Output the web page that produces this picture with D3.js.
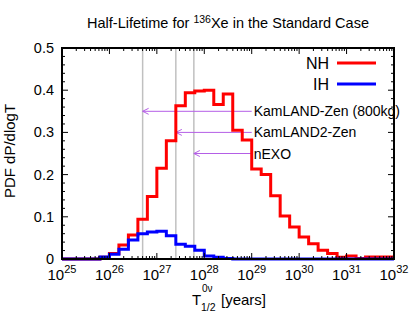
<!DOCTYPE html>
<html>
<head>
  <style>
    body { margin: 0; background: #fff; }
    text { font-family: "Liberation Sans", Arial, sans-serif; fill: #000; }
  </style>
</head>
<body>
  <svg id="chart"></svg>

  <script src="https://d3js.org/d3.v7.min.js"></script>
  <script>
    // histogram bin edges, as log10(T / years)
    var binEdges = [25.0, 25.2, 25.4, 25.6, 25.8, 26.0, 26.2, 26.4, 26.6, 26.8,
                    27.0, 27.2, 27.4, 27.6, 27.8, 28.0, 28.2, 28.4, 28.6, 28.8,
                    29.0, 29.2, 29.4, 29.6, 29.8, 30.0, 30.2, 30.4, 30.6, 30.8,
                    31.0, 31.2, 31.4, 31.6, 31.8, 32.0];
    // PDF per bin
    var nhValues = [0, 0, 0, 0, 0.004, 0.013, 0.033, 0.057, 0.094, 0.148,
                    0.215, 0.280, 0.363, 0.394, 0.398, 0.400, 0.366, 0.391, 0.305, 0.282,
                    0.213, 0.200, 0.150, 0.102, 0.076, 0.052, 0.036, 0.021, 0.013, 0.004,
                    0.007, 0.001, 0.005, 0.005, 0.005];
    var ihValues = [0, 0, 0, 0, 0.005, 0.011, 0.023, 0.045, 0.060, 0.064,
                    0.066, 0.055, 0.035, 0.030, 0.021, 0.007, 0.004, 0.001, 0, 0,
                    0, 0, 0, 0, 0, 0, 0, 0, 0, 0,
                    0, 0, 0, 0, 0];
    // experiment sensitivities
    var expNames = ["KamLAND-Zen (800kg)", "KamLAND2-Zen", "nEXO"];
    var expLimits = [26.7, 27.4, 27.78];
    var expArrowY = [0.35, 0.30, 0.25];
    var labelAt = 29;

    var xTickExp = [25, 26, 27, 28, 29, 30, 31, 32];
    var yTicks = [0, 0.1, 0.2, 0.3, 0.4, 0.5];

    var width = 420, height = 327;
    var pLeft = 62, pRight = 394, pTop = 48, pBottom = 259;

    var svg = d3.select("#chart").attr("width", width).attr("height", height);

    var x = d3.scaleLog().domain([1e25, 1e32]).range([pLeft, pRight]);
    var y = d3.scaleLinear().domain([0, 0.5]).range([pBottom, pTop]);

    // vertical gray sensitivity lines
    svg.selectAll(".vline").data(expLimits).enter().append("line")
      .attr("x1", function(d) { return x(Math.pow(10, d)); })
      .attr("x2", function(d) { return x(Math.pow(10, d)); })
      .attr("y1", pTop).attr("y2", pBottom)
      .attr("stroke", "#c0c0c0").attr("stroke-width", 1.5);

    // arrows
    var purple = "#b45ee6";
    expLimits.forEach(function(d, i) {
      var x0 = x(Math.pow(10, labelAt)), x1 = x(Math.pow(10, d)), yy = y(expArrowY[i]);
      svg.append("line").attr("x1", x0).attr("x2", x1).attr("y1", yy).attr("y2", yy)
        .attr("stroke", purple).attr("stroke-width", 1);
      svg.append("path")
        .attr("d", "M" + (x1 + 6) + "," + (yy - 3) + "L" + x1 + "," + yy + "L" + (x1 + 6) + "," + (yy + 3))
        .attr("fill", "none").attr("stroke", purple).attr("stroke-width", 1);
      svg.append("text").attr("x", x0 + 2).attr("y", yy + 5)
        .style("font-size", "14px").text(expNames[i]);
    });

    // step histograms
    function stepPoints(vals) {
      var pts = vals.map(function(v, i) { return [binEdges[i], v]; });
      pts.push([binEdges[binEdges.length - 1], vals[vals.length - 1]]);
      return pts;
    }
    var line = d3.line()
      .x(function(d) { return x(Math.pow(10, d[0])); })
      .y(function(d) { return y(d[1]); })
      .curve(d3.curveStepAfter);

    svg.append("path").datum(stepPoints(nhValues)).attr("d", line)
      .attr("fill", "none").attr("stroke", "#ff0000").attr("stroke-width", 3);
    svg.append("path").datum(stepPoints(ihValues)).attr("d", line)
      .attr("fill", "none").attr("stroke", "#0000ff").attr("stroke-width", 3);

    // frame
    svg.append("rect").attr("x", pLeft).attr("y", pTop)
      .attr("width", pRight - pLeft).attr("height", pBottom - pTop)
      .attr("fill", "none").attr("stroke", "#000").attr("stroke-width", 2);

    // ticks (inward, mirrored)
    var ticks = svg.append("g").attr("stroke", "#000").attr("stroke-width", 1);
    for (var e = 25; e < 32; e++) {
      for (var m = 1; m < 10; m++) {
        var xv = x(m * Math.pow(10, e));
        var len = m === 1 ? 6 : 3;
        ticks.append("line").attr("x1", xv).attr("x2", xv).attr("y1", pBottom).attr("y2", pBottom - len);
        ticks.append("line").attr("x1", xv).attr("x2", xv).attr("y1", pTop).attr("y2", pTop + len);
      }
    }
    for (var k = 0; k <= 25; k++) {
      var yv = y(k * 0.02);
      var ylen = k % 5 === 0 ? 6 : 3;
      ticks.append("line").attr("x1", pLeft).attr("x2", pLeft + ylen).attr("y1", yv).attr("y2", yv);
      ticks.append("line").attr("x1", pRight).attr("x2", pRight - ylen).attr("y1", yv).attr("y2", yv);
    }

    // y tick labels
    svg.selectAll(".ylab").data(yTicks).enter().append("text")
      .attr("x", pLeft - 8).attr("y", function(d) { return y(d) + 5; })
      .attr("text-anchor", "end").style("font-size", "14.5px")
      .text(function(d) { return d === 0 ? "0" : d.toFixed(1); });

    // x tick labels 10^n
    xTickExp.forEach(function(e) {
      var t = svg.append("text").attr("x", x(Math.pow(10, e))).attr("y", 280)
        .attr("text-anchor", "middle").style("font-size", "15px");
      t.append("tspan").text("10");
      t.append("tspan").attr("dy", -7).style("font-size", "11px").text(e);
    });

    // title
    var title = svg.append("text").attr("x", 228).attr("y", 28)
      .attr("text-anchor", "middle").style("font-size", "14.5px");
    title.append("tspan").text("Half-Lifetime for ");
    title.append("tspan").attr("dy", -5).style("font-size", "10.5px").text("136");
    title.append("tspan").attr("dy", 5).text("Xe in the Standard Case");

    // axis titles
    svg.append("text").attr("transform", "translate(15,151) rotate(-90)")
      .attr("text-anchor", "middle").style("font-size", "15px").text("PDF dP/dlogT");

    var xt = svg.append("text").attr("x", 192).attr("y", 305).style("font-size", "15px");
    xt.append("tspan").text("T");
    xt.append("tspan").attr("x", 202).attr("y", 292).style("font-size", "10px").text("0ν");
    xt.append("tspan").attr("x", 201).attr("y", 311).style("font-size", "10.5px").text("1/2");
    xt.append("tspan").attr("x", 221).attr("y", 305).text("[years]");

    // legend
    var legend = [["NH", "#ff0000", 63], ["IH", "#0000ff", 84]];
    legend.forEach(function(l) {
      svg.append("text").attr("x", 329).attr("y", l[2] + 6)
        .attr("text-anchor", "end").style("font-size", "16px").text(l[0]);
      svg.append("line").attr("x1", 337).attr("x2", 376).attr("y1", l[2]).attr("y2", l[2])
        .attr("stroke", l[1]).attr("stroke-width", 3);
    });
  </script>
</body>
</html>
